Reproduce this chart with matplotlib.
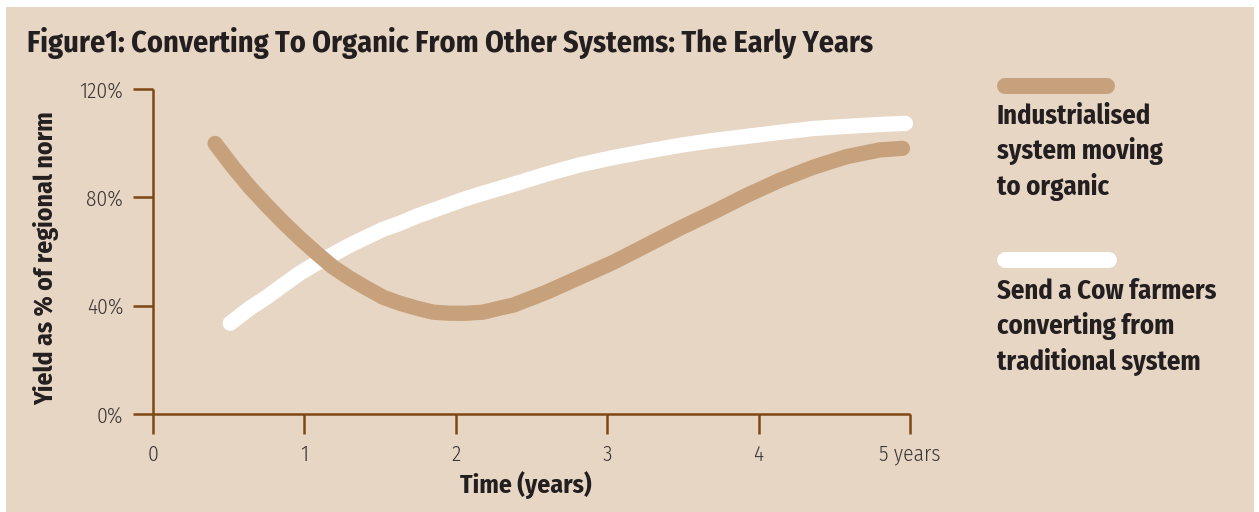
import matplotlib
matplotlib.use("Agg")
import matplotlib.pyplot as plt
from matplotlib.patches import Rectangle
from matplotlib.lines import Line2D

# data (years, % of regional norm)
industrial_x = [0.41, 0.53, 0.64, 0.75, 0.86, 0.97, 1.08, 1.19, 1.30, 1.41, 1.52, 1.63, 1.74,
                1.85, 1.96, 2.07, 2.18, 2.29, 2.38, 2.60, 2.82, 3.04, 3.26, 3.48, 3.70, 3.92,
                4.14, 4.36, 4.58, 4.80, 4.95]
industrial_y = [99.9, 91.1, 83.7, 77.1, 70.8, 64.9, 59.4, 54.2, 50.1, 46.5, 43.1, 40.9, 39.1,
                37.6, 37.2, 37.2, 37.6, 39.1, 40.2, 45.0, 50.5, 56.0, 62.3, 68.6, 74.5, 80.7,
                86.3, 91.1, 95.0, 97.5, 98.1]

sac_x = [0.51, 0.64, 0.75, 0.86, 0.97, 1.08, 1.19, 1.30, 1.41, 1.52, 1.63, 1.74, 1.85, 1.96,
         2.07, 2.18, 2.29, 2.38, 2.60, 2.82, 3.04, 3.26, 3.48, 3.70, 3.92, 4.14, 4.36, 4.58,
         4.80, 4.97]
sac_y = [33.5, 39.1, 43.1, 47.6, 52.0, 55.7, 59.0, 62.3, 65.3, 68.2, 70.4, 73.0, 75.2, 77.4,
         79.6, 81.5, 83.3, 84.8, 88.6, 92.0, 94.7, 97.0, 99.2, 101.0, 102.5, 104.0, 105.4, 106.2,
         106.9, 107.3]

x_ticks = [0, 1, 2, 3, 4, 5]
x_labels = ['0', '1', '2', '3', '4', '5 years']
y_ticks = [0, 40, 80, 120]
y_labels = ['0%', '40%', '80%', '120%']

BG = '#e7d6c4'
BROWN = '#c6a17c'
AXIS = '#7d4713'
TXT = '#231f20'

plt.rcParams['font.family'] = ['Fira Sans Condensed', 'DejaVu Sans']

W, H = 1259, 512
fig = plt.figure(figsize=(W / 100, H / 100), dpi=100, facecolor='white')
fig.patches.append(Rectangle((6 / W, 0), (1254 - 6) / W, 1 - 7 / H,
                             transform=fig.transFigure, facecolor=BG,
                             edgecolor='none', zorder=-5))

ax = fig.add_axes([153 / W, 1 - 414 / H, (910 - 153) / W, (414 - 89) / H])
ax.set_facecolor('none')
ax.set_zorder(2)

ax.plot(sac_x, sac_y, color='white', lw=11, solid_capstyle='round',
        solid_joinstyle='round', clip_on=False, zorder=3)
ax.plot(industrial_x, industrial_y, color=BROWN, lw=11, solid_capstyle='round',
        solid_joinstyle='round', clip_on=False, zorder=4)

ax.set_xlim(0, 5)
ax.set_ylim(0, 120)
ax.set_xticks(x_ticks)
ax.set_xticklabels(x_labels)
ax.set_yticks(y_ticks)
ax.set_yticklabels(y_labels)

for s in ['top', 'right']:
    ax.spines[s].set_visible(False)
for s in ['left', 'bottom']:
    ax.spines[s].set_color(AXIS)
    ax.spines[s].set_linewidth(1.8)
    ax.spines[s].set_capstyle('butt')

ax.tick_params(axis='both', direction='out', length=14.5, width=1.8,
               color=AXIS, labelcolor='#3b3535', labelsize=15.5)
ax.tick_params(axis='y', pad=7)
ax.tick_params(axis='x', pad=7)
for lab in ax.get_xticklabels() + ax.get_yticklabels():
    lab.set_fontweight(300)

ax.set_xlabel('Time (years)', fontsize=18.5, fontweight='bold', color=TXT, va='baseline')
ax.xaxis.set_label_coords((526 - 153) / 757, (414 - 493) / 325)
ax.set_ylabel('Yield as % of regional norm', fontsize=18.5, fontweight='bold', color=TXT,
              va='baseline')
ax.yaxis.set_label_coords((53 - 153) / 757, (414 - 258) / 325)

fig.text(27 / W, 1 - 52 / H, 'Figure1: Converting To Organic From Other Systems: The Early Years',
         fontsize=21.7, fontweight='bold', color=TXT, ha='left', va='baseline')

# legend: swatch above each label (baseline anchors the last line)
fig.add_artist(Line2D([1005 / W, 1107 / W], [1 - 86 / H, 1 - 86 / H], transform=fig.transFigure,
                      color=BROWN, lw=11.5, solid_capstyle='round'))
fig.text(997 / W, 1 - 195 / H, 'Industrialised\nsystem moving\nto organic', fontsize=19.2,
         fontweight='bold', color=TXT, ha='left', va='baseline', linespacing=1.36)
fig.add_artist(Line2D([1005 / W, 1109 / W], [1 - 260 / H, 1 - 260 / H], transform=fig.transFigure,
                      color='white', lw=11.5, solid_capstyle='round'))
fig.text(997 / W, 1 - 370 / H, 'Send a Cow farmers\nconverting from\ntraditional system', fontsize=19.2,
         fontweight='bold', color=TXT, ha='left', va='baseline', linespacing=1.36)

fig.savefig('out.png', dpi=100, facecolor=fig.get_facecolor())
